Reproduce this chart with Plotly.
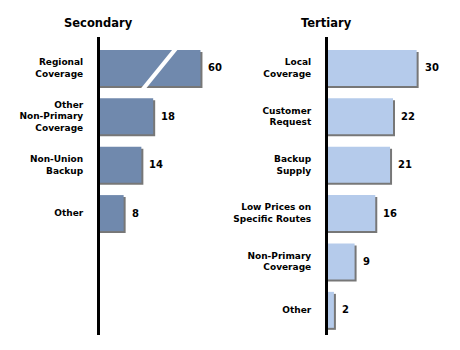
import plotly.graph_objects as go

# ---- data ----
sec_labels = ["Regional<br>Coverage", "Other<br>Non-Primary<br>Coverage", "Non-Union<br>Backup", "Other"]
sec_values = [60, 18, 14, 8]
ter_labels = ["Local<br>Coverage", "Customer<br>Request", "Backup<br>Supply",
              "Low Prices on<br>Specific Routes", "Non-Primary<br>Coverage", "Other"]
ter_values = [30, 22, 21, 16, 9, 2]
titles = ["Secondary", "Tertiary"]

# ---- style / layout parameters ----
W, H = 460, 350
BREAK_CAP = 34          # axis break: longer bars are drawn to this length
XMAX = 44
BAR_W = 0.744
Y_RANGE = [5.52, -0.64]
SEC_COLOR = "#7089ad"
TER_COLOR = "#b5cbeb"
SHADOW = "#777777"
FONT = "DejaVu Sans"
px_per_unit = 130 / XMAX
px_per_cat = 298 / (Y_RANGE[0] - Y_RANGE[1])
sx = 2 / px_per_unit
sy = 2 / px_per_cat

fig = go.Figure()

panels = [
    (sec_labels, sec_values, SEC_COLOR, "x", "y", [100 / W, 230 / W]),
    (ter_labels, ter_values, TER_COLOR, "x2", "y2", [328 / W, 458 / W]),
]

shapes = []
annotations = []
for k, (labels, values, color, xa, ya, dom) in enumerate(panels):
    pos = list(range(len(values)))
    disp = [min(v, BREAK_CAP) for v in values]
    # shadow
    fig.add_trace(go.Bar(
        y=pos, x=[d + sx for d in disp], orientation="h", width=BAR_W,
        offset=-BAR_W / 2 + sy, marker=dict(color=SHADOW, line=dict(width=0)),
        xaxis=xa, yaxis=ya, hoverinfo="skip", showlegend=False))
    # bars
    fig.add_trace(go.Bar(
        y=pos, x=disp, orientation="h", width=BAR_W, offset=-BAR_W / 2,
        marker=dict(color=color, line=dict(width=0)),
        xaxis=xa, yaxis=ya, showlegend=False))
    for p, v, d in zip(pos, values, disp):
        annotations.append(dict(
            x=d, y=p, xref=xa, yref=ya, text=str(v), showarrow=False,
            xanchor="left", yanchor="middle", xshift=6,
            font=dict(family=FONT, size=10, color="black", weight="bold")))
        if v > BREAK_CAP:
            # white slash marking the axis break
            c = d * 0.59
            half = BAR_W / 2
            w0 = 0.9
            lean = 5.5
            y0, y1 = p + half + sy + 0.02, p - half - 0.02
            shapes.append(dict(
                type="path", xref=xa, yref=ya, layer="above",
                path=f"M {c - lean - w0} {y0} L {c - lean + w0} {y0} L {c + lean + w0} {y1} L {c + lean - w0} {y1} Z",
                fillcolor="white", line=dict(width=0)))
    annotations.append(dict(
        x=(dom[0] * W - 2) / W, y=1 - 23 / H, xref="paper", yref="paper",
        text=titles[k], showarrow=False, xanchor="center", yanchor="middle",
        font=dict(family=FONT, size=11.5, color="black", weight="bold")))

    axis_x = dict(domain=dom, range=[0, XMAX], visible=False, fixedrange=True)
    axis_y = dict(domain=[1 - 335 / H, 1 - 37 / H], range=Y_RANGE,
                  tickvals=pos, ticktext=labels, showline=True, linewidth=3,
                  linecolor="black", showgrid=False, zeroline=False, ticks="",
                  ticklabelstandoff=12,
                  tickfont=dict(family=FONT, size=9, color="black", weight="bold"),
                  anchor=xa)
    if k == 0:
        fig.update_layout(xaxis=dict(axis_x, anchor="y"), yaxis=axis_y)
    else:
        fig.update_layout(xaxis2=dict(axis_x, anchor="y2"), yaxis2=axis_y)

fig.update_layout(
    width=W, height=H, margin=dict(l=0, r=0, t=0, b=0),
    paper_bgcolor="white", plot_bgcolor="white", barmode="overlay",
    shapes=shapes, annotations=annotations, font=dict(family=FONT),
)

fig.write_html("out.html")
